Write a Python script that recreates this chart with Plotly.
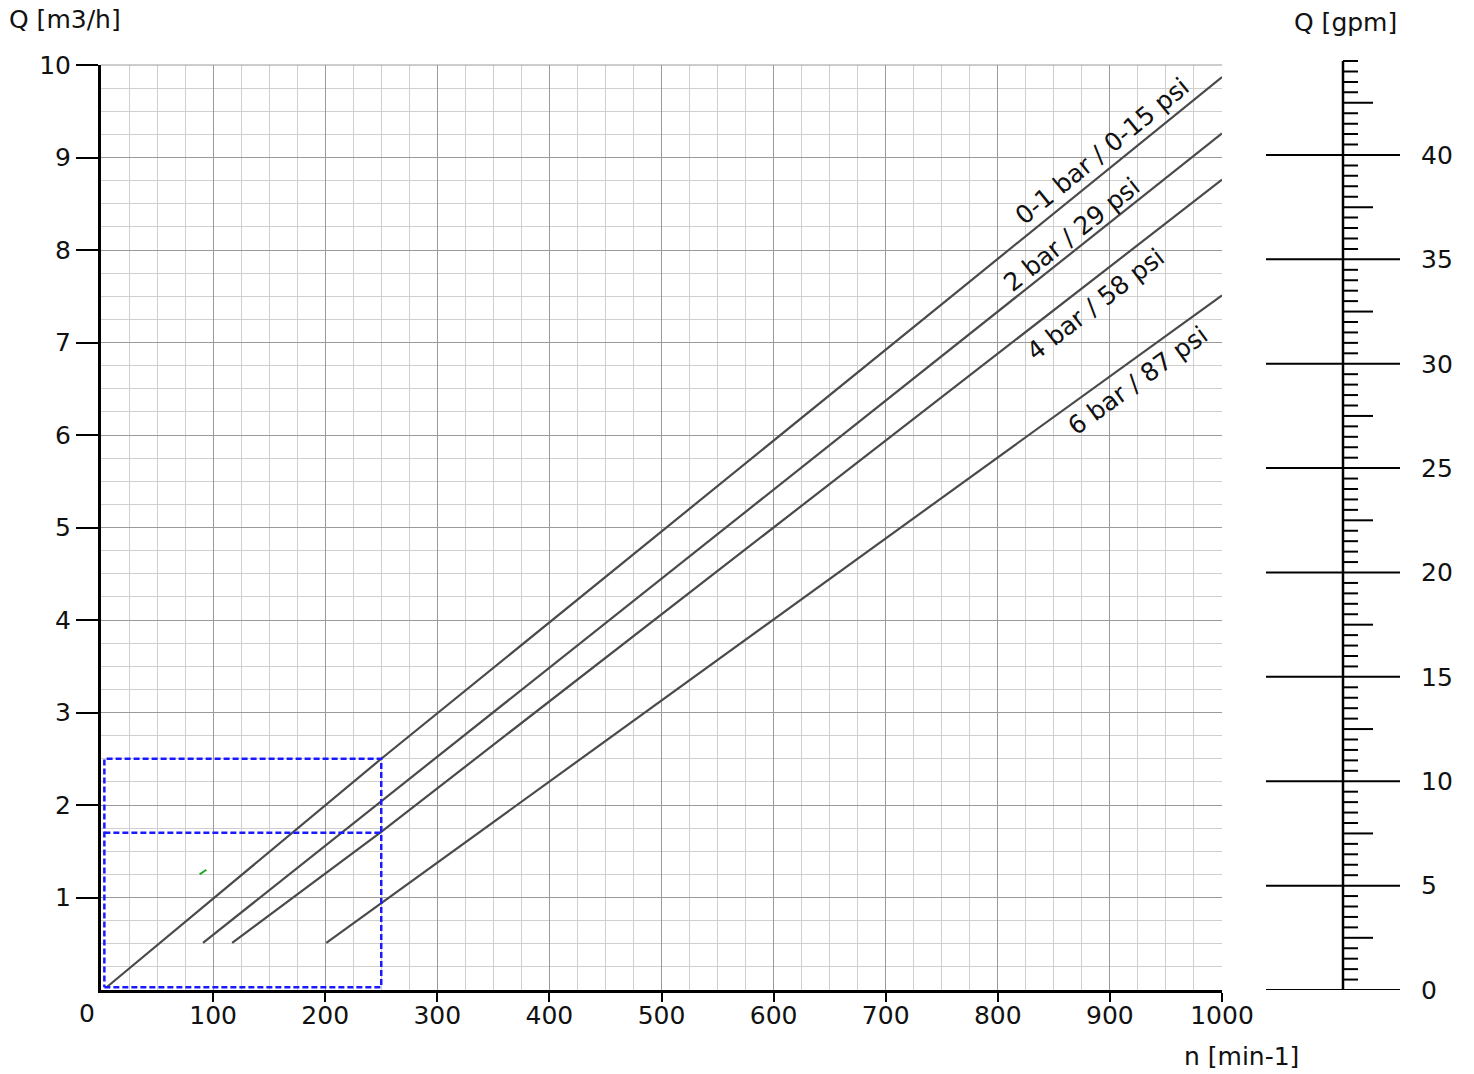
import plotly.graph_objects as go

# ---------------- data ----------------
speed_01bar = [5, 250, 1000]          # n [min-1]
flow_01bar = [0.03, 2.5, 9.87]        # Q [m3/h]
speed_2bar = [91, 1000]
flow_2bar = [0.51, 9.26]
speed_4bar = [117, 250, 1000]
flow_4bar = [0.51, 1.71, 8.76]
speed_6bar = [201, 1000]
flow_6bar = [0.51, 7.51]

curve_labels = ["0-1 bar / 0-15 psi", "2 bar / 29 psi", "4 bar / 58 psi", "6 bar / 87 psi"]

# blue dashed reading box
box_n = [3, 250]
box_q_top = 2.5
box_q_mid = 1.7
box_q_bottom = 0.03

# tiny green mark
green_n = [88, 94]
green_q = [1.25, 1.30]

x_ticks = [0, 100, 200, 300, 400, 500, 600, 700, 800, 900, 1000]
y_ticks = [1, 2, 3, 4, 5, 6, 7, 8, 9, 10]
gpm_major = [0, 5, 10, 15, 20, 25, 30, 35, 40]
gpm_minor = [i * 0.5 for i in range(90)]  # 0 .. 44.5

# ---------------- layout constants ----------------
W, H = 1474, 1074
FONT = "DejaVu Sans, Verdana, sans-serif"
FS = 25
px_left, px_right = 101, 1222
px_top, px_bottom = 65, 990
gpm_px_per_unit = 20.875
gpm_top_px = 53.7

def fx(p):
    return p / W

def fy(p):
    return 1 - p / H

fig = go.Figure()

line_style = dict(color="#4a4a4a", width=2.2)
for n, q in [(speed_01bar, flow_01bar), (speed_2bar, flow_2bar),
             (speed_4bar, flow_4bar), (speed_6bar, flow_6bar)]:
    fig.add_trace(go.Scatter(x=n, y=q, mode="lines", line=line_style,
                             hoverinfo="skip", showlegend=False))

# dashed box
blue = dict(color="#1a1aff", width=2.5, dash="6px,3px")
fig.add_trace(go.Scatter(
    x=[box_n[0], box_n[1], box_n[1], box_n[0], box_n[0], None, box_n[0], box_n[1]],
    y=[box_q_bottom, box_q_bottom, box_q_top, box_q_top, box_q_bottom, None, box_q_mid, box_q_mid],
    mode="lines", line=blue, hoverinfo="skip", showlegend=False))

fig.add_trace(go.Scatter(x=green_n, y=green_q, mode="lines",
                         line=dict(color="#22aa22", width=2),
                         hoverinfo="skip", showlegend=False))

# gpm scale on secondary axes
mx, my = [], []
for g in gpm_major:
    mx += [-77, 57, None]
    my += [g, g, None]
fig.add_trace(go.Scatter(x=mx, y=my, mode="lines", line=dict(color="black", width=2),
                         xaxis="x2", yaxis="y2", hoverinfo="skip", showlegend=False))
sx, sy = [], []
for g in gpm_minor:
    if g in gpm_major:
        continue
    length = 30 if abs((g % 5) - 2.5) < 1e-9 else 15
    sx += [0, length, None]
    sy += [g, g, None]
fig.add_trace(go.Scatter(x=sx, y=sy, mode="lines", line=dict(color="black", width=2),
                         xaxis="x2", yaxis="y2", hoverinfo="skip", showlegend=False))
fig.add_trace(go.Scatter(x=[0, 0], y=[0, gpm_minor[-1]], mode="lines",
                         line=dict(color="black", width=2.5),
                         xaxis="x2", yaxis="y2", hoverinfo="skip", showlegend=False))

gpm_top = (px_bottom - gpm_top_px) / gpm_px_per_unit

fig.update_layout(
    width=W, height=H,
    margin=dict(l=0, r=0, t=0, b=0, autoexpand=False),
    paper_bgcolor="white", plot_bgcolor="white",
    font=dict(family=FONT, size=FS, color="#111"),
    showlegend=False,
    xaxis=dict(
        domain=[fx(px_left), fx(px_right)], range=[0, 1000], automargin=False,
        tickmode="array", tickvals=x_ticks[1:], ticktext=[str(v) for v in x_ticks[1:]],
        ticks="outside", ticklen=9, tickwidth=2, tickcolor="black",
        ticklabelstandoff=-8,
        showline=True, linecolor="black", linewidth=2.5, mirror=False,
        showgrid=True, gridcolor="#9a9a9a", gridwidth=1,
        minor=dict(tickmode="linear", tick0=0, dtick=25, showgrid=True,
                   gridcolor="#cfcfcf", gridwidth=1, ticks=""),
        zeroline=False, anchor="y", tickfont=dict(size=FS),
    ),
    yaxis=dict(
        domain=[fy(px_bottom), fy(px_top)], range=[0, 10], automargin=False,
        tickmode="array", tickvals=y_ticks,
        ticks="outside", ticklen=22, tickwidth=2, tickcolor="black",
        showline=True, linecolor="black", linewidth=3,
        showgrid=True, gridcolor="#9a9a9a", gridwidth=1,
        minor=dict(tickmode="linear", tick0=0, dtick=0.25, showgrid=True,
                   gridcolor="#cfcfcf", gridwidth=1, ticks=""),
        zeroline=False, anchor="x", tickfont=dict(size=FS),
    ),
    xaxis2=dict(domain=[fx(1266), fx(1400)], range=[-77, 57], visible=False,
                anchor="y2", fixedrange=True, automargin=False),
    yaxis2=dict(domain=[fy(px_bottom), fy(gpm_top_px)], range=[0, gpm_top],
                anchor="x2", side="right", showgrid=False, zeroline=False,
                showline=False, ticks="", tickmode="array", tickvals=gpm_major,
                ticklabelstandoff=20, tickfont=dict(size=FS), automargin=False),
)

# top border line of plot area
fig.add_shape(type="line", xref="paper", yref="paper",
              x0=fx(px_left), x1=fx(px_right), y0=fy(px_top), y1=fy(px_top),
              line=dict(color="#9a9a9a", width=1))

annotations = [
    dict(text="Q [m3/h]", x=fx(8), y=fy(19), xanchor="left", yanchor="middle"),
    dict(text="Q [gpm]", x=fx(1293), y=fy(22), xanchor="left", yanchor="middle"),
    dict(text="n [min-1]", x=fx(1183), y=fy(1056), xanchor="left", yanchor="middle"),
    dict(text="0", x=fx(87), y=fy(1013), xanchor="center", yanchor="middle"),
]
for a in annotations:
    fig.add_annotation(xref="paper", yref="paper", showarrow=False, borderpad=0,
                       font=dict(size=FS, family=FONT, color="#111"), **a)

label_pos = [(893, 9.06, -39.2), (866, 8.17, -38.5), (887, 7.41, -37.6), (925, 6.59, -36.0)]
for txt, (lx, ly, ang) in zip(curve_labels, label_pos):
    fig.add_annotation(x=lx, y=ly, xref="x", yref="y", text=txt, showarrow=False,
                       textangle=ang, font=dict(size=FS, family=FONT, color="#111"))

# remove the browser's default body margin so the figure fills the window exactly
fig.write_html("out.html", config={"displayModeBar": False},
               post_script="document.body.style.margin='0px';")
